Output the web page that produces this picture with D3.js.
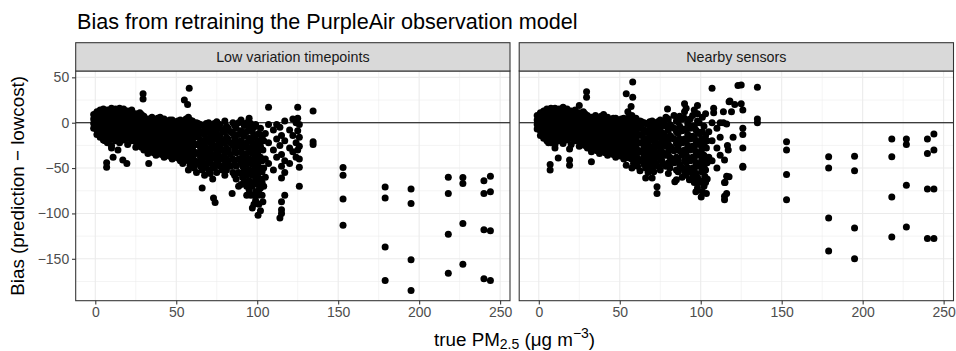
<!DOCTYPE html>
<html>
<head>
<meta charset="utf-8">
<script src="https://cdn.jsdelivr.net/npm/d3@7"></script>
<style>
html,body{margin:0;padding:0;background:#fff;}
svg{display:block;font-family:"Liberation Sans",Arial,Helvetica,sans-serif;}
</style>
</head>
<body>
<svg id="chart" width="956" height="351"></svg>
<script>
// ---------------- data ----------------
const titleText = "Bias from retraining the PurpleAir observation model";
const panelNames = ["Low variation timepoints", "Nearby sensors"];
const xTicks = [0, 50, 100, 150, 200, 250];
const yTicks = [50, 0, -50, -100, -150];
const xMinorTicks = [25, 75, 125, 175, 225];
const yMinorTicks = [25, -25, -75, -125, -175];

// [true PM2.5, bias] — Low variation timepoints
const lowVariationPoints = [
 [-1,-6],[-1,-1],[-1,4],[-1,9],
 [1,-13],[1,-8],[1,-3],[1,2],[1,7],[1,12],
 [3,-16],[3,-11],[3,-6],[3,-1],[3,4],[3,9],[3,14],
 [5,-19],[5,-14],[5,-9],[5,-4],[5,1],[5,6],[5,11],[5,15],
 [7.5,-22],[7.5,-16],[7.5,-11],[7.5,-6],[7.5,-1],[7.5,4],[7.5,9],[7.5,14],
 [10,-25],[10,-18],[10,-13],[10,-8],[10,-3],[10,2],[10,7],[10,12],[10,16],
 [12.5,-20],[12.5,-15],[12.5,-10],[12.5,-5],[12.5,0],[12.5,5],[12.5,10],[12.5,15],
 [15,-22],[15,-17],[15,-12],[15,-7],[15,-2],[15,3],[15,8],[15,13],[15,16],
 [17.5,-19],[17.5,-14],[17.5,-9],[17.5,-4],[17.5,1],[17.5,6],[17.5,11],[17.5,15],
 [20,-24],[20,-17],[20,-12],[20,-7],[20,-2],[20,3],[20,8],[20,13],
 [22.5,-20],[22.5,-15],[22.5,-10],[22.5,-5],[22.5,0],[22.5,5],[22.5,10],[22.5,14],
 [25,-27],[25,-21],[25,-15],[25,-10],[25,-5],[25,0],[25,5],[25,10],
 [7,-49],[7,-44],[11,-38],[17,-41],[19.5,-45],[10,-28],[6,-20],[14,-30],
 [29.5,32],[29.5,26],
 [26,-21],[26,-15],[26,-9],[26,-3],[26,3],[26,8],
 [27.5,-24],[27.5,-18],[27.5,-12],[27.5,-6],[27.5,0],[27.5,6],[27.5,11],
 [28.5,-27],[28.5,-21],[28.5,-15],[28.5,-9],[28.5,-3],[28.5,3],[28.5,9],
 [30,-30],[30,-23],[30,-17],[30,-11],[30,-5],[30,1],[30,7],
 [31,-26],[31,-20],[31,-14],[31,-8],[31,-2],[31,4],
 [32.5,-34],[32.5,-27],[32.5,-20],[32.5,-14],[32.5,-8],[32.5,-2],[32.5,4],
 [33,-45],
 [33.5,-31],[33.5,-24],[33.5,-17],[33.5,-11],[33.5,-5],[33.5,1],
 [35,-30],[35,-24],[35,-18],[35,-12],[35,-6],[35,0],[35,6],
 [36,-33],[36,-27],[36,-21],[36,-15],[36,-9],[36,-3],[36,3],
 [37.5,-36],[37.5,-28],[37.5,-21],[37.5,-15],[37.5,-9],[37.5,-3],[37.5,3],
 [38.5,-32],[38.5,-25],[38.5,-18],[38.5,-12],[38.5,-6],[38.5,0],[38.5,5],
 [40,-32],[40,-25],[40,-18],[40,-11],[40,-5],[40,1],[40,6],
 [41,-35],[41,-28],[41,-21],[41,-14],[41,-8],[41,-2],[41,4],
 [42.5,-38],[42.5,-29],[42.5,-22],[42.5,-15],[42.5,-8],[42.5,-2],[42.5,4],
 [43.5,-33],[43.5,-25],[43.5,-18],[43.5,-11],[43.5,-5],[43.5,1],
 [45,-34],[45,-26],[45,-19],[45,-12],[45,-5],[45,1],
 [46,-37],[46,-30],[46,-22],[46,-15],[46,-8],[46,-2],[46,3],
 [47.5,-40],[47.5,-31],[47.5,-23],[47.5,-16],[47.5,-9],[47.5,-2],[47.5,3],
 [48.5,-35],[48.5,-27],[48.5,-19],[48.5,-12],[48.5,-5],[48.5,1],
 [50,-36],[50,-28],[50,-20],[50,-13],[50,-6],[50,0],
 [51,-39],[51,-31],[51,-24],[51,-16],[51,-9],[51,-3],[51,2],
 [52.5,-42],[52.5,-33],[52.5,-25],[52.5,-17],[52.5,-10],[52.5,-3],[52.5,3],
 [53.5,-38],[53.5,-29],[53.5,-21],[53.5,-14],[53.5,-7],[53.5,0],
 [54,-45],[55,25],
 [55,-37],[55,-29],[55,-21],[55,-13],[55,-5],[55,2],
 [56,-41],[56,-33],[56,-25],[56,-17],[56,-9],[56,-1],[56,4],
 [57.5,-52],[57.5,-42],[57.5,-33],[57.5,-24],[57.5,-16],[57.5,-8],[57.5,0],[57.5,6],[57,20],[58,38],
 [58.5,-47],[58.5,-37],[58.5,-28],[58.5,-20],[58.5,-12],[58.5,-4],[58.5,3],
 [60,-46],[60,-37],[60,-28],[60,-20],[60,-12],[60,-4],[60,2],
 [61,-50],[61,-41],[61,-32],[61,-24],[61,-16],[61,-8],[61,-1],
 [62.5,-55],[62.5,-44],[62.5,-34],[62.5,-24],[62.5,-15],[62.5,-7],[62.5,0],
 [63.5,-43],[63.5,-33],[63.5,-24],[63.5,-16],[63.5,-8],[63.5,-1],
 [65,-48],[65,-38],[65,-28],[65,-19],[65,-10],[65,-2],
 [66,-72],[66,-52],[66,-42],[66,-31],[66,-21],[66,-12],[66,-3],
 [67.5,-58],[67.5,-45],[67.5,-34],[67.5,-23],[67.5,-13],[67.5,-4],
 [68.5,-49],[68.5,-38],[68.5,-28],[68.5,-18],[68.5,-9],[68.5,-1],
 [70,-52],[70,-40],[70,-29],[70,-18],[70,-8],[70,0],
 [71,-56],[71,-44],[71,-33],[71,-22],[71,-12],[71,-3],
 [72.5,-62],[72.5,-47],[72.5,-35],[72.5,-24],[72.5,-14],[72.5,-5],
 [73,-83],[74,-88],
 [73.5,-50],[73.5,-39],[73.5,-28],[73.5,-18],[73.5,-9],[73.5,-1],
 [75,-55],[75,-42],[75,-30],[75,-18],[75,-8],[75,1],
 [76,-45],[76,-35],[76,-24],[76,-14],[76,-4],
 [77,-2],[77,-14],[77,-26],[77,-38],[77,-48],
 [78.5,-52],[78.5,-40],[78.5,-30],[78.5,-20],[78.5,-8],
 [80,2],[80,-10],[80,-22],[80,-34],[80,-46],[80,-58],
 [81,-52],[81,-40],[81,-28],[81,-16],[81,-4],
 [82,-6],[82,-18],[82,-30],[82,-42],
 [83.5,-48],[83.5,-35],[83.5,-22],[83.5,-10],
 [84.5,-78],[85,0],[85,-12],[85,-25],[85,-40],[85,-55],
 [86,-58],[86,-45],[86,-30],[86,-16],[86,-3],
 [87,-6],[87,-20],[87,-33],[87,-48],[87,-62],
 [88.5,-70],[88.5,-55],[88.5,-40],[88.5,-26],[88.5,-13],[88.5,0],
 [90,3],[90,-9],[90,-20],[90,-32],[90,-44],[90,-56],[90,-68],
 [91,-60],[91,-48],[91,-36],[91,-24],[91,-12],
 [92,-3],[92,-15],[92,-27],[92,-40],[92,-52],[92,-64],
 [93.5,-80],[93.5,-70],[93.5,-58],[93.5,-46],[93.5,-34],[93.5,-22],[93.5,-10],[93.5,0],
 [95,5],[95,-6],[95,-17],[95,-28],[95,-40],[95,-52],[95,-64],[95,-74],
 [96,-80],[96,-68],[96,-56],[96,-44],[96,-32],[96,-20],[96,-1],
 [97,-10],[97,-22],[97,-34],[97,-46],[97,-58],[97,-70],[97,-94],
 [98,-90],[98,-80],[98,-66],[98,-52],[98,-40],[98,-28],[98,-16],[98,-5],
 [99,-2],[99,-14],[99,-26],[99,-38],[99,-50],[99,-62],[99,-76],[99,-86],
 [100.5,-20],[100.5,-32],[100.5,-44],[100.5,-56],[100.5,-68],[100.5,-80],[100.5,-102],
 [101,-90],[101,-74],[101,-62],[101,-50],[101,-38],[101,-26],[101,-12],
 [102,-6],[102,-26],[102,-38],[102,-50],[102,-62],[102,-72],[102,-97],
 [103,-80],[103,-66],[103,-54],[103,-42],[103,-16],
 [103.5,-30],[103.5,-87],
 [104,-70],[104,-50],[104,-20],
 [105,-12],[105,-40],[105,-60],
 [107,17],[107,-2],[107,-22],[107,-45],
 [110,-8],[110,-30],[110,-52],
 [112,-2],[112,-18],[112,-38],
 [114,-5],[114,-25],[114,-105],
 [115,-14],[115,-35],[115,-48],[115,-61],[115,-87],[115,-96],[115,-100],
 [117,2],[117,-20],[117,-42],[117,-55],[117,-80],
 [120,-8],[120,-28],[120,-45],
 [122,4],[122,-14],[122,-32],
 [124,0],[124,-22],[124,-38],
 [125,17],[125,5],[125,-9],[125,-30],
 [126,-2],[126,-16],[126,-26],[126,-40],[126,-49],[126,-70],
 [134.5,13],[134.5,-21],[134.5,-24],
 [153,-49.5],[153,-58],[153,-84],[153,-113],
 [179,-71],[179,-83],[179,-137],[179,-174],
 [195,-73],[195,-89],[195,-151],[195,-185],
 [218,-60],[218,-78],[218,-123],[218,-166],
 [227,-60.5],[227,-67],[227,-111],[227,-156],
 [240,-64],[240,-78],[240,-118],[240,-172],
 [244,-59],[244,-76],[244,-119],[244,-174]
];

// [true PM2.5, bias] — Nearby sensors
const nearbyPoints = [
 [-1,-7],[-1,-2],[-1,3],[-1,8],
 [1,-14],[1,-9],[1,-4],[1,1],[1,6],[1,11],
 [3,-17],[3,-12],[3,-7],[3,-2],[3,3],[3,8],[3,13],
 [5,-20],[5,-15],[5,-10],[5,-5],[5,0],[5,5],[5,10],[5,15],
 [7.5,-22],[7.5,-17],[7.5,-12],[7.5,-7],[7.5,-2],[7.5,3],[7.5,8],[7.5,13],[7.5,16],
 [10,-24],[10,-18],[10,-13],[10,-8],[10,-3],[10,2],[10,7],[10,12],[10,16],
 [12.5,-20],[12.5,-15],[12.5,-10],[12.5,-5],[12.5,0],[12.5,5],[12.5,10],[12.5,15],
 [15,-23],[15,-17],[15,-12],[15,-7],[15,-2],[15,3],[15,8],[15,13],[15,17],
 [17.5,-19],[17.5,-14],[17.5,-9],[17.5,-4],[17.5,1],[17.5,6],[17.5,11],[17.5,15],
 [20,-24],[20,-17],[20,-12],[20,-7],[20,-2],[20,3],[20,8],[20,13],
 [22.5,-20],[22.5,-15],[22.5,-10],[22.5,-5],[22.5,0],[22.5,5],[22.5,10],[22.5,14],
 [25,-26],[25,-20],[25,-14],[25,-9],[25,-4],[25,1],[25,6],[25,11],[25,19],
 [7,-52],[7,-46],[12,-39],[19,-41],[19,-47],[10,-28],[19,-29],[6,-22],
 [29.5,34],[29.5,28],
 [26,-19],[26,-13],[26,-7],[26,-1],[26,5],[26,10],
 [27.5,-22],[27.5,-16],[27.5,-10],[27.5,-4],[27.5,2],[27.5,8],[27.5,12],
 [28.5,-25],[28.5,-19],[28.5,-13],[28.5,-7],[28.5,-1],[28.5,5],[28.5,10],
 [30,-28],[30,-21],[30,-15],[30,-9],[30,-3],[30,3],[30,8],
 [31,-24],[31,-18],[31,-12],[31,-6],[31,0],[31,6],
 [32.5,-43],[32.5,-32],[32.5,-25],[32.5,-18],[32.5,-12],[32.5,-6],[32.5,0],[32.5,6],
 [33.5,-29],[33.5,-22],[33.5,-15],[33.5,-9],[33.5,-3],[33.5,3],
 [35,-28],[35,-22],[35,-16],[35,-10],[35,-4],[35,2],[35,8],
 [36,-31],[36,-25],[36,-19],[36,-13],[36,-7],[36,-1],[36,5],
 [37.5,-34],[37.5,-26],[37.5,-19],[37.5,-13],[37.5,-7],[37.5,-1],[37.5,5],
 [38.5,-30],[38.5,-23],[38.5,-16],[38.5,-10],[38.5,-4],[38.5,2],[38.5,7],
 [40,-30],[40,-23],[40,-16],[40,-9],[40,-3],[40,3],[40,9],
 [41,-33],[41,-26],[41,-19],[41,-12],[41,-6],[41,0],[41,6],
 [42.5,-36],[42.5,-27],[42.5,-20],[42.5,-13],[42.5,-6],[42.5,0],[42.5,6],
 [43.5,-31],[43.5,-23],[43.5,-16],[43.5,-9],[43.5,-3],[43.5,3],
 [45,-32],[45,-24],[45,-17],[45,-10],[45,-3],[45,3],
 [46,-35],[46,-28],[46,-20],[46,-13],[46,-6],[46,0],[46,5],
 [47.5,-38],[47.5,-29],[47.5,-21],[47.5,-14],[47.5,-7],[47.5,0],[47.5,5],
 [48.5,-33],[48.5,-25],[48.5,-17],[48.5,-10],[48.5,-3],[48.5,3],
 [50,-34],[50,-26],[50,-18],[50,-11],[50,-4],[50,2],
 [51,-37],[51,-29],[51,-22],[51,-14],[51,-7],[51,-1],[51,4],
 [52.5,-40],[52.5,-31],[52.5,-23],[52.5,-15],[52.5,-8],[52.5,-1],[52.5,5],
 [53.5,-36],[53.5,-27],[53.5,-19],[53.5,-12],[53.5,-5],[53.5,2],
 [54,-47],[54,32],
 [55,-35],[55,-27],[55,-19],[55,-11],[55,-3],[55,4],[55,12],
 [56,-39],[56,-31],[56,-23],[56,-15],[56,-7],[56,1],[56,7],
 [57.5,-50],[57.5,-40],[57.5,-31],[57.5,-22],[57.5,-14],[57.5,-6],[57.5,2],[57.5,8],[58,28],[58,45],[57,18],
 [58.5,-45],[58.5,-35],[58.5,-26],[58.5,-18],[58.5,-10],[58.5,-2],[58.5,5],
 [60,-44],[60,-35],[60,-26],[60,-18],[60,-10],[60,-2],[60,5],
 [61,-48],[61,-39],[61,-30],[61,-22],[61,-14],[61,-6],[61,1],
 [62.5,-53],[62.5,-42],[62.5,-32],[62.5,-22],[62.5,-13],[62.5,-5],[62.5,2],
 [63.5,-41],[63.5,-31],[63.5,-22],[63.5,-14],[63.5,-6],[63.5,1],
 [65,-46],[65,-36],[65,-26],[65,-17],[65,-8],[65,0],
 [66,-61],[66,-50],[66,-40],[66,-29],[66,-19],[66,-10],[66,-1],
 [67.5,-55],[67.5,-43],[67.5,-32],[67.5,-21],[67.5,-11],[67.5,-2],
 [68.5,-47],[68.5,-36],[68.5,-26],[68.5,-16],[68.5,-7],[68.5,1],
 [70,-61],[70,-50],[70,-38],[70,-27],[70,-16],[70,-6],[70,2],
 [71,-54],[71,-42],[71,-31],[71,-20],[71,-10],[71,-1],
 [72.5,-45],[72.5,-33],[72.5,-22],[72.5,-12],[72.5,-3],
 [73,-70.5],[73,-78],
 [73.5,-48],[73.5,-37],[73.5,-26],[73.5,-16],[73.5,-7],[73.5,1],
 [75,-52],[75,-40],[75,-28],[75,-16],[75,-6],[75,3],
 [76,-42],[76,-32],[76,-21],[76,-11],[76,-1],
 [77,0],[77,-12],[77,-24],[77,-36],[77,-46],
 [78.5,-48],[78.5,-36],[78.5,-26],[78.5,-16],[78.5,-4],[78.5,6],
 [79.5,15],[80,4],[80,-8],[80,-20],[80,-32],[80,-44],[80,-56],
 [81,-50],[81,-38],[81,-26],[81,-14],[81,-2],
 [82,-4],[82,-16],[82,-28],[82,-40],
 [83.5,-44],[83.5,-31],[83.5,-18],[83.5,-6],[83.5,8],
 [84,-65],[85,-63],[85,2],[85,-10],[85,-23],[85,-38],[85,-52],
 [86,-54],[86,-41],[86,-26],[86,-12],[86,1],
 [87,7],[87,-4],[87,-18],[87,-31],[87,-46],
 [88.5,-60],[88.5,-50],[88.5,-36],[88.5,-22],[88.5,-9],[88.5,4],
 [90,21],[90,12],[90,5],[90,-7],[90,-18],[90,-30],[90,-42],[90,-54],
 [91,-58],[91,-44],[91,-32],[91,-20],[91,-8],[91,16],
 [92,-1],[92,-13],[92,-25],[92,-38],[92,-50],
 [93,-63],
 [93.5,-54],[93.5,-42],[93.5,-30],[93.5,-18],[93.5,-6],[93.5,4],
 [95,8],[95,-4],[95,-15],[95,-26],[95,-38],[95,-50],[95,-60],
 [96,-66],[96,-52],[96,-40],[96,-28],[96,-16],[96,-4],[96,14],
 [97,-8],[97,-20],[97,-32],[97,-44],[97,-56],[97,-76],
 [98,19],[98,10],
 [98,-72],[98,-60],[98,-46],[98,-34],[98,-22],[98,-10],[98,2],
 [99,0],[99,-12],[99,-24],[99,-36],[99,-48],[99,-66],
 [100.3,-82],[100.5,-18],[100.5,-30],[100.5,-42],[100.5,-54],
 [101,-76],[101,-64],[101,-48],[101,-36],[101,-24],[101,-10],[101,6],
 [102,-4],[102,-24],[102,-36],[102,-48],[102,-70],[102.5,-59],
 [103,-66],[103,-52],[103,-40],[103,-14],[103,10],
 [103.5,-78],[103.5,-28],
 [104,-62],[104,-44],[104,-20],
 [105,-10],[105,-38],
 [107,38],[108,16],[108,11],[107,0],[107,-20],[107,-42],
 [110,-6],[110,-28],[110,-50],
 [112,0],[112,-16],[112,-36],
 [114,12],[114,0],[114.7,-85],[114.7,-81],[114.7,-66],[114.7,-41],
 [116,-1.5],[116,-78],[116,-59],[116.5,-25],[117,-30],
 [117.5,23],[118,24],[119,12],[120,-16],[121,20],
 [123,41],[125,41.5],[125,21],[126,14],[126,-6],[126,-13],[126,-28],[126,-48],[126,-49],
 [117.5,-59.5],[115,-66],
 [135,39],[135,4],[135,0],
 [153,-21],[153,-30],[153,-57],[153,-85],
 [179,-37.5],[179,-50],[179,-105],[179,-141.5],
 [195,-37],[195,-53],[195,-116],[195,-150],
 [218,-18],[218,-37.5],[218,-82],[218,-126],
 [227,-18],[227,-24],[227,-69],[227,-115],
 [240,-18],[240,-34],[240,-73],[240,-127.5],
 [244,-12.5],[244,-30],[244,-73],[244,-127.5]
];

const panelData = [lowVariationPoints, nearbyPoints];

// ---------------- layout ----------------
const svg = d3.select("#chart");
const panelW = 434.3;
const panelLefts = [75.7, 519.2];
const panelTop = 71, panelBottom = 300.7;
const stripTop = 42.7;
const xDomain = [-12.1, 256.1];
const yDomain = [-196.2, 57.0];
const grey20 = "#333333", grey30 = "#4D4D4D", grid = "#EBEBEB";
const tickFont = "14px";

const y = d3.scaleLinear().domain(yDomain).range([panelBottom, panelTop]);

svg.append("text")
  .attr("x", 77).attr("y", 29)
  .attr("font-size", "21.6px").attr("fill", "#000")
  .text(titleText);

panelNames.forEach((name, i) => {
  const left = panelLefts[i];
  const x = d3.scaleLinear().domain(xDomain).range([left, left + panelW]);
  const g = svg.append("g");

  g.append("rect").attr("x", left).attr("y", panelTop)
    .attr("width", panelW).attr("height", panelBottom - panelTop).attr("fill", "#fff");

  const clipId = "clip" + i;
  svg.append("clipPath").attr("id", clipId).append("rect")
    .attr("x", left).attr("y", panelTop).attr("width", panelW).attr("height", panelBottom - panelTop);

  g.selectAll(".xmin").data(xMinorTicks).enter().append("line")
    .attr("x1", d => x(d)).attr("x2", d => x(d)).attr("y1", panelTop).attr("y2", panelBottom)
    .attr("stroke", grid).attr("stroke-width", 0.55);
  g.selectAll(".ymin").data(yMinorTicks).enter().append("line")
    .attr("x1", left).attr("x2", left + panelW).attr("y1", d => y(d)).attr("y2", d => y(d))
    .attr("stroke", grid).attr("stroke-width", 0.55);
  g.selectAll(".xmaj").data(xTicks).enter().append("line")
    .attr("x1", d => x(d)).attr("x2", d => x(d)).attr("y1", panelTop).attr("y2", panelBottom)
    .attr("stroke", grid).attr("stroke-width", 1.07);
  g.selectAll(".ymaj").data(yTicks).enter().append("line")
    .attr("x1", left).attr("x2", left + panelW).attr("y1", d => y(d)).attr("y2", d => y(d))
    .attr("stroke", grid).attr("stroke-width", 1.07);

  g.append("line").attr("x1", left).attr("x2", left + panelW)
    .attr("y1", y(0)).attr("y2", y(0)).attr("stroke", "#000").attr("stroke-width", 1.07);

  g.append("g").attr("clip-path", `url(#${clipId})`)
    .selectAll("circle").data(panelData[i]).enter().append("circle")
    .attr("cx", d => x(d[0])).attr("cy", d => y(d[1])).attr("r", 3.5).attr("fill", "#000");

  g.append("rect").attr("x", left).attr("y", panelTop)
    .attr("width", panelW).attr("height", panelBottom - panelTop)
    .attr("fill", "none").attr("stroke", grey20).attr("stroke-width", 1.07);

  g.append("rect").attr("x", left).attr("y", stripTop)
    .attr("width", panelW).attr("height", panelTop - stripTop)
    .attr("fill", "#D9D9D9").attr("stroke", grey20).attr("stroke-width", 1.07);
  g.append("text").attr("x", left + panelW / 2).attr("y", 61.8)
    .attr("text-anchor", "middle").attr("font-size", "14.3px").attr("fill", "#1A1A1A")
    .text(name);

  const xa = g.append("g").attr("transform", `translate(0,${panelBottom})`)
    .call(d3.axisBottom(x).tickValues(xTicks).tickSize(3.7).tickPadding(2.8).tickFormat(d3.format("d")));
  xa.select(".domain").remove();
  xa.selectAll(".tick line").attr("stroke", grey20).attr("stroke-width", 1.07);
  xa.selectAll(".tick text").attr("fill", grey30).attr("font-size", tickFont)
    .attr("font-family", "Liberation Sans, Arial, sans-serif");

  if (i === 0) {
    const ya = g.append("g").attr("transform", `translate(${left},0)`)
      .call(d3.axisLeft(y).tickValues(yTicks).tickSize(3.7).tickPadding(2.8).tickFormat(d3.format("d")));
    ya.select(".domain").remove();
    ya.selectAll(".tick line").attr("stroke", grey20).attr("stroke-width", 1.07);
    ya.selectAll(".tick text").attr("fill", grey30).attr("font-size", tickFont)
      .attr("font-family", "Liberation Sans, Arial, sans-serif");
  }
});

const xt = svg.append("text")
  .attr("x", (panelLefts[0] + panelLefts[1] + panelW) / 2).attr("y", 345.5)
  .attr("text-anchor", "middle").attr("font-size", "18.8px").attr("fill", "#000");
xt.append("tspan").text("true PM");
xt.append("tspan").attr("font-size", "14px").attr("dy", 3.5).text("2.5");
xt.append("tspan").attr("dy", -3.5).text(" (\u03BCg m");
xt.append("tspan").attr("font-size", "14px").attr("dy", -7.5).text("\u22123");
xt.append("tspan").attr("dy", 7.5).text(")");

svg.append("text")
  .attr("transform", `translate(24,${(panelTop + panelBottom) / 2}) rotate(-90)`)
  .attr("text-anchor", "middle").attr("font-size", "18.8px").attr("fill", "#000")
  .text("Bias (prediction \u2212 lowcost)");
</script>
</body>
</html>
